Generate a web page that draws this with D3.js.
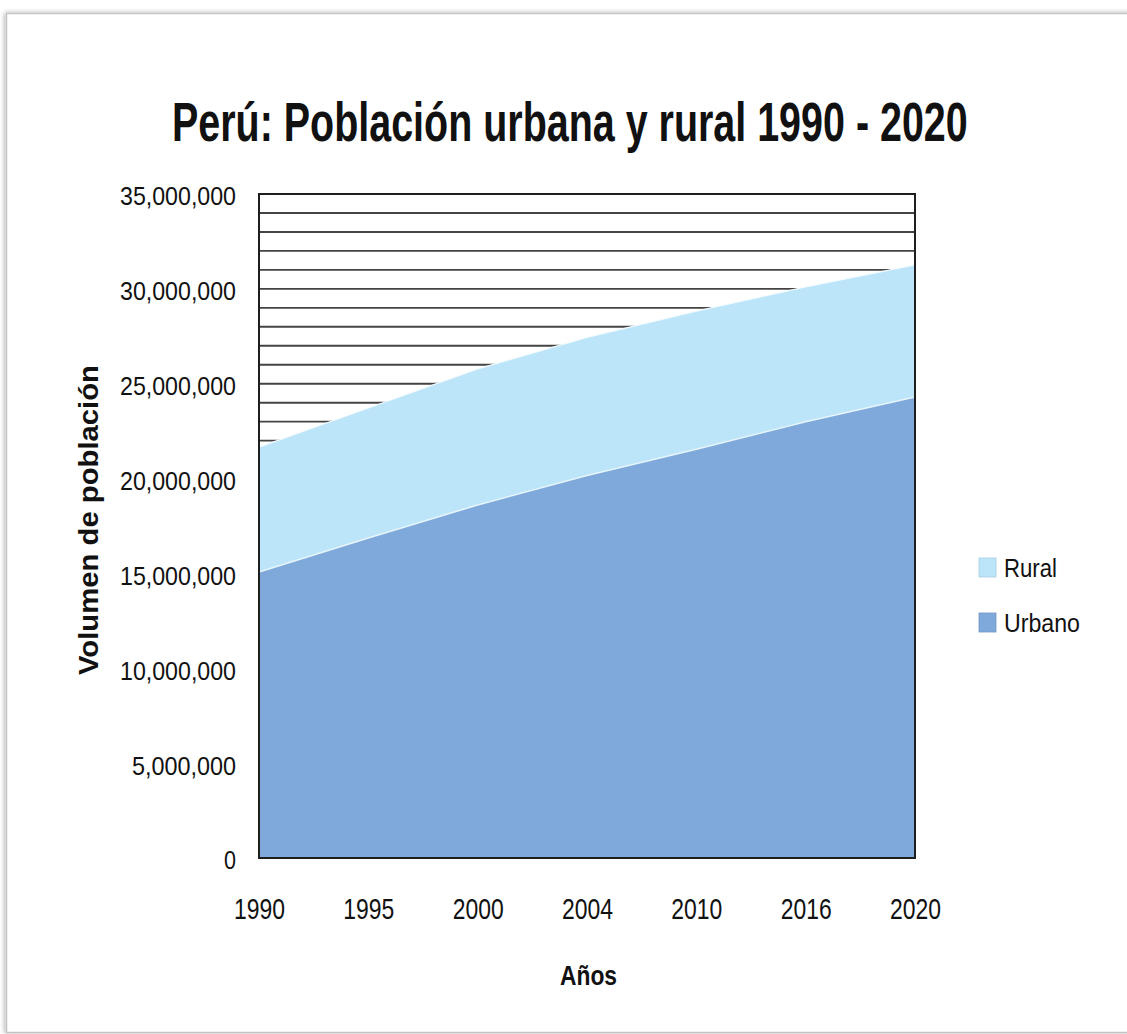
<!DOCTYPE html>
<html lang="es">
<head>
<meta charset="utf-8">
<title>Perú: Población urbana y rural 1990 - 2020</title>
<script src="https://cdn.jsdelivr.net/npm/d3@7/dist/d3.min.js"></script>
<style>
  html, body { margin: 0; padding: 0; background: #fff; }
  svg { display: block; }
  text { font-family: "Liberation Sans", Arial, Helvetica, sans-serif; fill: #111; }
</style>
</head>
<body>
<div id="chart"></div>
<script>
// Años mostrados en el eje horizontal (categorías equiespaciadas)
const years = ["1990", "1995", "2000", "2004", "2010", "2016", "2020"];
// Población urbana por año
const urbano = [15080000, 16870000, 18610000, 20160000, 21550000, 22990000, 24300000];
// Población rural por año (se apila sobre la urbana)
const rural = [6580000, 6850000, 7170000, 7280000, 7280000, 7110000, 6960000];
// Marcas del eje vertical
const yTickValues = [0, 5000000, 10000000, 15000000, 20000000, 25000000, 30000000, 35000000];
// Series de la leyenda
const legendNames = ["Rural", "Urbano"];

const W = 1127, H = 1034;
const plot = { left: 259, right: 915, top: 194, bottom: 858 };
const colors = { Rural: "#bce5f9", Urbano: "#7ea9da" };

const svg = d3.select("#chart").append("svg")
  .attr("width", W).attr("height", H);

// Marco exterior con sombra suave
const defs = svg.append("defs");
const shadow = defs.append("filter").attr("id", "frameShadow")
  .attr("x", "-5%").attr("y", "-5%").attr("width", "110%").attr("height", "110%");
shadow.append("feGaussianBlur").attr("in", "SourceAlpha").attr("stdDeviation", 2.5);
shadow.append("feOffset").attr("dx", -1).attr("dy", 0).attr("result", "ob");
shadow.append("feComponentTransfer").append("feFuncA").attr("type", "linear").attr("slope", 0.35);
const merge = shadow.append("feMerge");
merge.append("feMergeNode");
merge.append("feMergeNode").attr("in", "SourceGraphic");

svg.append("rect")
  .attr("x", 6.5).attr("y", 13.5)
  .attr("width", W + 10).attr("height", 1019)
  .attr("fill", "#fff").attr("stroke", "#c4c4c4").attr("stroke-width", 1.5)
  .attr("filter", "url(#frameShadow)");

// Ajusta el ancho de un texto comprimiéndolo horizontalmente
function fit(sel, width) {
  sel.attr("textLength", width).attr("lengthAdjust", "spacingAndGlyphs");
  return sel;
}

// Título: se escala en horizontal para lograr su tipografía estrecha
const titleG = svg.append("g");
const title = titleG.append("text")
  .attr("x", 0).attr("y", 0)
  .attr("font-size", 56).attr("font-weight", "bold")
  .text("Perú: Población urbana y rural 1990 - 2020");
const natural = title.node().getComputedTextLength();
titleG.attr("transform", `translate(172,141) scale(${796 / natural},1)`);

// Escalas
const x = d3.scalePoint().domain(years).range([plot.left, plot.right]);
const y = d3.scaleLinear().domain([0, 35000000]).range([plot.bottom, plot.top]);

// Líneas horizontales cada millón de habitantes
svg.append("g")
  .selectAll("line")
  .data(y.ticks(35).filter(d => d > 0 && d < 35000000))
  .join("line")
  .attr("x1", plot.left).attr("x2", plot.right)
  .attr("y1", d => y(d)).attr("y2", d => y(d))
  .attr("stroke", "#444").attr("stroke-width", 1.9);

// Áreas apiladas
const rows = years.map((yr, i) => ({ year: yr, Urbano: urbano[i], Rural: rural[i] }));
const stacked = d3.stack().keys(["Urbano", "Rural"])(rows);

const area = d3.area()
  .x(d => x(d.data.year))
  .y0(d => y(d[0]))
  .y1(d => y(d[1]));

svg.append("g")
  .selectAll("path")
  .data(stacked)
  .join("path")
  .attr("d", area)
  .attr("fill", d => colors[d.key]);

// Borde claro entre ambas capas
const topLine = d3.line().x(d => x(d.data.year)).y(d => y(d[1]));
svg.append("path")
  .attr("d", topLine(stacked[0]))
  .attr("fill", "none").attr("stroke", "#e6f4fc").attr("stroke-width", 1.6);
svg.append("path")
  .attr("d", topLine(stacked[1]))
  .attr("fill", "none").attr("stroke", "#f4fbff").attr("stroke-width", 1.2);

// Recuadro del área de trazado
svg.append("rect")
  .attr("x", plot.left).attr("y", plot.top)
  .attr("width", plot.right - plot.left).attr("height", plot.bottom - plot.top)
  .attr("fill", "none").attr("stroke", "#1e1e1e").attr("stroke-width", 2);

// Eje Y
const yAxis = svg.append("g")
  .attr("transform", "translate(236,0)")
  .call(d3.axisLeft(y).tickValues(yTickValues).tickSize(0).tickPadding(0)
    .tickFormat(d3.format(",")));
yAxis.select(".domain").remove();
yAxis.selectAll("text")
  .attr("font-size", 26)
  .attr("font-family", "'Liberation Sans', Arial, sans-serif")
  .attr("fill", "#111")
  .attr("dy", "0.42em")
  .each(function () {
    const t = d3.select(this);
    const len = t.text().length;
    t.attr("textLength", len === 1 ? 12 : (len === 9 ? 104 : 116))
     .attr("lengthAdjust", "spacingAndGlyphs");
  });

// Eje X
const xAxis = svg.append("g")
  .attr("transform", `translate(0,${plot.bottom})`)
  .call(d3.axisBottom(x).tickSize(0).tickPadding(0));
xAxis.select(".domain").remove();
xAxis.selectAll("text")
  .attr("font-size", 30)
  .attr("font-family", "'Liberation Sans', Arial, sans-serif")
  .attr("fill", "#111")
  .attr("dy", null)
  .attr("y", 61)
  .attr("textLength", 51)
  .attr("lengthAdjust", "spacingAndGlyphs");

// Títulos de los ejes
fit(svg.append("text")
  .attr("x", 588.5).attr("y", 985)
  .attr("text-anchor", "middle")
  .attr("font-size", 27).attr("font-weight", "bold")
  .text("Años"), 57);

fit(svg.append("text")
  .attr("transform", "translate(98,520) rotate(-90)")
  .attr("text-anchor", "middle")
  .attr("font-size", 27).attr("font-weight", "bold")
  .text("Volumen de población"), 310);

// Leyenda
const legend = svg.append("g")
  .selectAll("g")
  .data(legendNames)
  .join("g")
  .attr("transform", (d, i) => `translate(979,${558 + i * 55})`);
legend.append("rect")
  .attr("width", 17).attr("height", 19)
  .attr("fill", d => colors[d])
  .attr("stroke", d => d3.color(colors[d]).darker(0.3))
  .attr("stroke-width", 0.8);
legend.append("text")
  .attr("x", 25).attr("y", 19)
  .attr("font-size", 26)
  .text(d => d)
  .attr("textLength", d => d === "Rural" ? 53 : 76)
  .attr("lengthAdjust", "spacingAndGlyphs");
</script>
</body>
</html>
